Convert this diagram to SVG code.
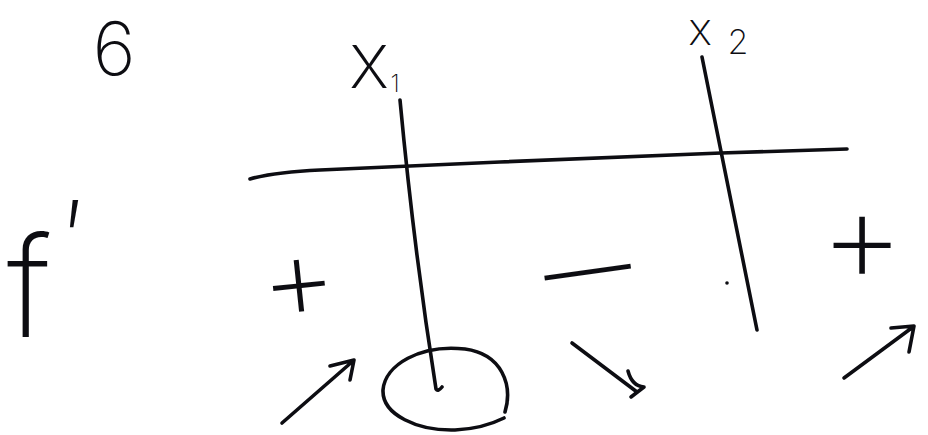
<svg xmlns="http://www.w3.org/2000/svg" width="928" height="435" viewBox="0 0 928 435">
<style>
.ink{fill:none;stroke:#0d0d12;stroke-width:3.6;stroke-linecap:round;stroke-linejoin:round}
.t{font-family:Inter,"Liberation Sans","DejaVu Sans",sans-serif;font-weight:200;fill:#0d0d12;text-anchor:middle}
</style>
<rect width="928" height="435" fill="#ffffff"/>
<g id="label-6"><text class="t" x="114" y="75" font-size="74">6</text></g>
<g id="label-x1"><text class="t" x="369" y="88" font-size="78">x</text><text class="t" x="395" y="92" font-size="24">1</text></g>
<g id="label-x2"><text class="t" x="700" y="45" font-size="46">x</text><text class="t" x="738" y="54" font-size="34">2</text></g>
<g id="label-fprime"><text class="t" x="29" y="337" font-size="140">f</text><text class="t" x="74" y="280" font-size="110">′</text></g>
<g id="sign-plus-left"><text class="t" x="298" y="320" font-size="120" transform="rotate(-6 298 278)">+</text></g>
<g id="sign-minus"><text class="t" x="0" y="0" font-size="110" transform="translate(592 303) rotate(-8) scale(1.85 1)">−</text></g>
<g id="sign-plus-right"><text class="t" x="862" y="283" font-size="132">+</text></g>
<g id="connectors">
<path id="axis" class="ink" d="M250,179 Q275,172 320,170 L500,162 L721,153 L847,149"/>
<path id="line-x1" class="ink" d="M400,100 Q414,250 436,389 Q438,392 442,387"/>
<path id="line-x2" class="ink" d="M702,57 L757,330"/>
<path id="min-circle" class="ink" d="M505,412 C513,385 502,354 465,349 C420,344 385,365 383,390 C382,415 418,431 455,430 C478,429 492,424 504,418"/>
<path id="arrow-up-1" class="ink" d="M282,423 L353,361 M330,366 L354,360 L350,380"/>
<path id="arrow-down" class="ink" d="M572,343 L637,392 M628,371 Q632,386 644,387 L631,397"/>
<path id="arrow-up-2" class="ink" d="M844,378 L913,327 M891,328 L914,326 L909,352"/>
<circle cx="727" cy="283" r="1.8" fill="#0d0d12"/>
</g>
</svg>
